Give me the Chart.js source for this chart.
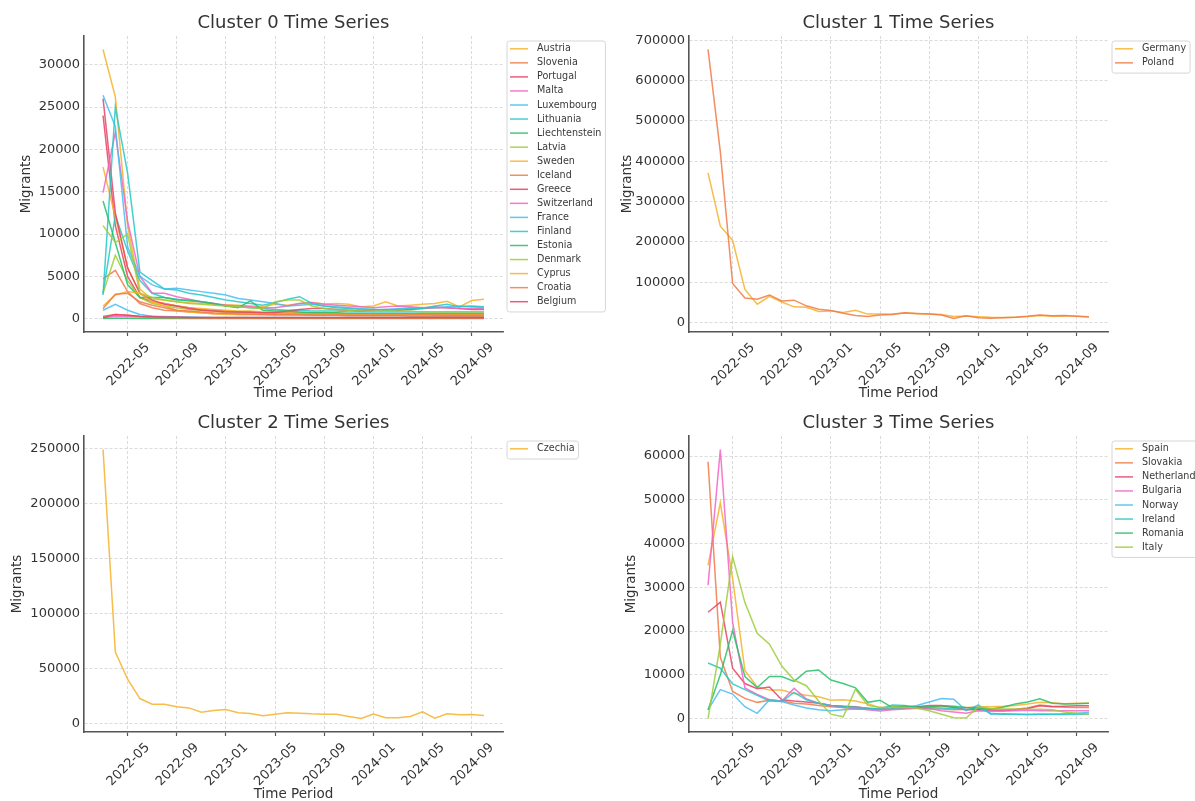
<!DOCTYPE html>
<html>
<head>
<meta charset="utf-8">
<script src="https://cdn.jsdelivr.net/npm/chart.js@4.4.1/dist/chart.umd.min.js"></script>
<style>
html,body{margin:0;padding:0;background:#ffffff;}
body{width:1195px;height:801px;position:relative;overflow:hidden;}
canvas{position:absolute;}
</style>
</head>
<body>
<canvas id="c0" width="610" height="400" style="left:0px;top:0px"></canvas>
<canvas id="c1" width="585" height="400" style="left:610px;top:0px"></canvas>
<canvas id="c2" width="610" height="401" style="left:0px;top:400px"></canvas>
<canvas id="c3" width="585" height="401" style="left:610px;top:400px"></canvas>
<script>
// ---------- categories (time periods) ----------
const months = ['2022-03','2022-04','2022-05','2022-06','2022-07','2022-08','2022-09','2022-10','2022-11','2022-12',
  '2023-01','2023-02','2023-03','2023-04','2023-05','2023-06','2023-07','2023-08','2023-09','2023-10','2023-11','2023-12',
  '2024-01','2024-02','2024-03','2024-04','2024-05','2024-06','2024-07','2024-08','2024-09','2024-10'];
const xTickLabels = ['2022-05','2022-09','2023-01','2023-05','2023-09','2024-01','2024-05','2024-09'];
const yTickSteps = [5000, 100000, 50000, 10000];

// ---------- Cluster 0 ----------
const cluster0Names = ['Austria','Slovenia','Portugal','Malta','Luxembourg','Lithuania','Liechtenstein','Latvia','Sweden','Iceland','Greece','Switzerland','France','Finland','Estonia','Denmark','Cyprus','Croatia','Belgium'];
const austria = [31800,26200,11000,3500,2300,2200,2000,1900,1800,1700,1650,1600,1500,1400,1700,1600,1800,1900,1750,1800,1700,1400,1500,2000,1500,1600,1700,1800,2050,1400,2150,2300];
const slovenia = [4700,5700,3200,1800,1300,1000,900,800,700,600,600,500,500,500,450,450,450,400,400,400,350,350,350,350,350,300,300,300,300,300,300,300];
const portugal = [24000,11000,5000,2500,2000,1800,1500,1300,1100,1000,900,800,800,700,700,700,700,650,650,600,600,600,550,550,550,550,550,500,500,500,500,500];
const malta = [100,300,250,200,150,150,150,150,120,120,120,120,110,110,110,110,100,100,100,100,100,100,100,100,100,100,100,100,100,100,100,100];
const luxembourg = [1000,1700,1000,500,300,250,200,200,180,150,150,150,150,150,150,150,150,150,150,150,150,150,150,150,150,150,150,150,150,150,150,150];
const lithuania = [3000,12200,8000,4500,3000,2500,2300,2100,2000,1800,1500,1400,1300,1200,1100,1000,1000,900,900,900,800,800,800,800,800,800,800,800,800,800,800,800];
const liechtenstein = [20,60,60,40,30,30,30,30,30,30,30,30,30,30,30,30,30,30,30,30,30,30,30,30,30,30,30,30,30,30,30,30];
const latvia = [3000,7500,4500,2500,1800,1500,1300,1100,1000,900,800,800,700,700,700,600,600,600,600,600,500,500,500,500,500,500,500,500,500,500,500,500];
const sweden = [17900,12000,6000,3000,2000,1800,1500,1300,1200,1100,1000,900,900,800,800,800,700,700,700,700,600,600,600,600,600,600,600,600,600,600,600,600];
const iceland = [300,500,400,250,150,100,100,80,80,60,60,50,50,50,50,50,50,50,50,50,50,50,50,50,50,50,50,50,50,50,50,50];
const greece = [26000,12500,6000,3000,2200,1700,1500,1200,1000,900,800,800,750,700,700,900,1100,1200,1200,1100,1000,900,1000,1100,1000,1100,1200,1300,1300,1200,1100,1100];
const switzerland = [14900,22000,11500,5000,3000,3000,2600,2300,2000,1800,1600,1500,1400,1300,1300,1500,1800,1900,1700,1600,1500,1400,1300,1400,1500,1400,1300,1400,1300,1200,1200,1200];
const france = [26400,22700,8500,5000,4000,3500,3600,3400,3200,3000,2800,2400,2200,2000,1800,1500,1600,1700,1500,1400,1300,1200,1100,1100,1200,1300,1300,1300,1400,1500,1400,1300];
const finland = [2800,25000,17200,5500,4500,3500,3400,3000,2800,2500,2200,2000,1800,1600,1900,2300,2600,1800,1500,1300,1200,1100,1100,1000,1100,1200,1200,1500,1700,1400,1500,1400];
const estonia = [13900,9000,4000,2500,2500,2500,2200,2200,2000,1800,1500,1300,2100,1000,900,900,800,700,700,700,600,600,600,600,600,600,600,600,600,600,600,600];
const denmark = [11000,9000,10000,3000,2500,2200,2000,1800,1700,1600,1500,1400,1300,1200,2000,2200,2200,1500,1200,1100,1000,900,900,900,900,900,800,800,800,800,800,800];
const cyprus = [1500,2800,3200,3000,2000,1500,1000,800,700,600,500,500,500,500,500,500,500,500,500,500,500,500,500,500,500,500,500,500,500,500,500,500];
const croatia = [1200,2900,3000,2000,1600,1300,1000,900,800,700,650,600,550,500,500,500,500,450,450,450,400,400,400,400,400,450,450,450,400,400,400,400];
const belgium = [150,500,400,300,250,200,200,150,150,150,150,150,150,150,150,150,150,150,150,150,150,150,150,150,150,150,150,150,150,150,150,150];

// ---------- Cluster 1 ----------
const cluster1Names = ['Germany','Poland'];
const germany = [371000,239000,204000,82000,45500,65000,51000,39000,38000,27500,29000,25000,30500,21000,21500,21000,23500,22000,21500,20000,15000,16000,14500,13000,12500,13500,15000,17500,16000,16500,16000,14500];
const poland = [677000,423000,96700,61000,58000,68500,53500,55500,41500,33000,29800,23000,17500,15000,19000,20000,24500,22500,21000,19000,10000,17000,12000,11000,12000,13000,15500,19000,17000,17500,15500,14000];

// ---------- Cluster 2 ----------
const cluster2Names = ['Czechia'];
const czechia = [249500,65100,40300,22700,17600,17600,15200,14200,10300,11800,12700,9700,9100,7000,8500,9700,9400,8800,8500,8500,6400,4500,8500,5200,5200,6400,10600,4800,8800,7900,8200,7300];

// ---------- Cluster 3 ----------
const cluster3Names = ['Spain','Slovakia','Netherlands','Bulgaria','Norway','Ireland','Romania','Italy'];
const spain = [35000,49300,32000,11000,7200,6500,6500,5700,5300,5000,4200,4300,4000,3400,2500,2700,2800,2700,2600,2900,2600,2500,2700,2700,2800,3000,3300,3700,3600,3400,3500,3500];
const slovakia = [58700,14000,6200,4600,3700,4200,4000,3500,3300,3000,2700,2500,2300,2200,2100,2200,2300,2300,2200,2200,2000,2100,2200,2100,2000,2100,2400,3100,2800,2600,2500,2500];
const netherlands = [24300,26600,11500,8000,6800,7200,4300,4000,3800,3500,3000,2800,2700,2300,2100,2300,2500,2700,3000,3000,2500,2000,2000,1800,1800,2000,2300,2900,2700,2800,2900,2900];
const bulgaria = [30500,61500,22000,7000,5500,4300,4000,6900,4500,3500,3000,2500,2300,2000,1700,2000,2200,2400,2300,1800,1500,1200,1800,1700,1700,1800,1900,1800,1800,1800,1800,1800];
const norway = [2000,6600,5600,2700,1200,4300,3900,3100,2400,2000,1800,2000,2200,2100,2000,2300,2500,3000,3800,4600,4400,1800,3100,1000,1100,1000,900,1000,1000,1100,1200,1400];
const ireland = [12700,11500,7900,6600,5300,4000,3900,6000,4300,3500,3000,2800,2600,2400,2200,3100,3000,2600,2500,2400,2300,2000,2500,1200,1000,1000,900,1000,1000,900,1000,1000];
const romania = [2000,10000,20100,9600,7100,9600,9600,8500,10800,11100,8800,8000,7000,3700,4200,2500,2800,2600,2700,2900,2800,2500,2400,2200,2600,3300,3800,4500,3500,3300,3400,3500];
const italy = [0,17000,37000,26500,19500,17000,12000,8800,7500,4000,1000,400,6700,3000,2500,2500,2600,2400,1800,1000,200,100,2700,2300,2200,2200,2100,2100,2000,1500,1200,1000];

// ---------- styling ----------
const palette = ['rgba(246,178,40,0.85)','rgba(240,122,72,0.85)','rgba(232,66,100,0.85)','rgba(242,100,196,0.85)',
                 'rgba(70,188,242,0.85)','rgba(36,200,200,0.85)','rgba(36,192,104,0.85)','rgba(158,204,58,0.85)'];
const FONT = "'DejaVu Sans', 'Liberation Sans', sans-serif";
Chart.defaults.font.family = FONT;
Chart.defaults.color = '#333333';

const xTickValues = xTickLabels.map(l => months.indexOf(l));

const boxLegend = {
  id: 'boxLegend',
  afterDraw(chart, args, opts) {
    const ctx = chart.ctx;
    const ds = chart.data.datasets;
    ctx.save();
    ctx.font = '9.6px ' + FONT;
    const rowH = 14.05;
    let maxW = 0;
    ds.forEach(d => { maxW = Math.max(maxW, ctx.measureText(d.label).width); });
    const w = maxW + 34, h = ds.length * rowH + 4;
    const x = opts.left, y = opts.top, r = 2.5;
    ctx.beginPath();
    ctx.moveTo(x + r, y); ctx.lineTo(x + w - r, y); ctx.arcTo(x + w, y, x + w, y + r, r);
    ctx.lineTo(x + w, y + h - r); ctx.arcTo(x + w, y + h, x + w - r, y + h, r);
    ctx.lineTo(x + r, y + h); ctx.arcTo(x, y + h, x, y + h - r, r);
    ctx.lineTo(x, y + r); ctx.arcTo(x, y, x + r, y, r);
    ctx.closePath();
    ctx.fillStyle = 'rgba(255,255,255,0.85)';
    ctx.fill();
    ctx.strokeStyle = '#d6d6d6';
    ctx.lineWidth = 1;
    ctx.stroke();
    ds.forEach((d, i) => {
      const yy = y + 7.8 + i * rowH;
      ctx.strokeStyle = d.borderColor;
      ctx.lineWidth = 1.5;
      ctx.beginPath(); ctx.moveTo(x + 3, yy); ctx.lineTo(x + 21, yy); ctx.stroke();
      ctx.fillStyle = '#3a3a3a';
      ctx.textBaseline = 'middle';
      ctx.textAlign = 'left';
      ctx.fillText(d.label, x + 30, yy);
    });
    ctx.restore();
  }
};

function makeChart(id, title, names, series, cfg) {
  const canvas = document.getElementById(id);
  const H = canvas.height;
  const all = series.flat();
  const lo = Math.min(...all), hi = Math.max(...all);
  const m = (hi - lo) * 0.05;
  const n = months.length - 1;
  const step = cfg.step;
  return new Chart(canvas, {
    type: 'line',
    data: {
      datasets: names.map((name, k) => ({
        label: name,
        data: series[k].map((v, i) => ({ x: i, y: v })),
        borderColor: palette[k % palette.length],
        borderWidth: 1.5,
        pointRadius: 0,
        pointHoverRadius: 0,
        tension: 0,
        fill: false,
        order: -k
      }))
    },
    options: {
      responsive: false,
      animation: false,
      events: [],
      layout: { padding: { left: 0, top: 0, right: cfg.right, bottom: 0 } },
      plugins: {
        legend: { display: false },
        tooltip: { enabled: false },
        title: {
          display: true, text: title, fullSize: false, color: '#333333',
          font: { size: 18, weight: 'normal', lineHeight: 1.2 },
          padding: { top: 12.5, bottom: 1.9 }
        },
        boxLegend: { left: cfg.legendLeft, top: 41 }
      },
      scales: {
        x: {
          type: 'linear',
          min: -0.05 * n,
          max: n + 0.05 * n,
          afterBuildTicks: s => { s.ticks = xTickValues.map(v => ({ value: v })); },
          afterFit: s => { s.height = H - 332; },
          ticks: {
            autoSkip: false, minRotation: 45, maxRotation: 45, labelOffset: 20, padding: 4,
            font: { size: 13 }, color: '#333333',
            callback: v => months[v]
          },
          grid: { color: '#d2d2d2', lineWidth: 0.8, drawTicks: true, tickLength: 4, tickColor: '#555555', tickWidth: 1.2, tickBorderDash: [] },
          border: { display: true, color: '#555555', width: 1.6, dash: [3, 2] },
          title: { display: true, text: 'Time Period', color: '#333333', font: { size: 13.5, lineHeight: 1 }, padding: { top: 0, bottom: 0 } }
        },
        y: {
          type: 'linear',
          min: lo - m,
          max: hi + m,
          afterBuildTicks: s => {
            const t = [];
            for (let v = Math.ceil(s.min / step) * step; v <= s.max; v += step) t.push({ value: v });
            s.ticks = t;
          },
          afterFit: s => { s.width = cfg.left; },
          ticks: {
            autoSkip: false, padding: 4,
            font: { size: 13 }, color: '#333333',
            callback: v => String(Math.round(v))
          },
          grid: { color: '#d2d2d2', lineWidth: 0.8, drawTicks: false },
          border: { display: true, color: '#555555', width: 1.6, dash: [3, 2] },
          title: { display: true, text: 'Migrants', color: '#333333', font: { size: 13.5, lineHeight: 1 }, padding: { top: cfg.yTitlePad, bottom: 0 } }
        }
      }
    },
    plugins: [boxLegend]
  });
}

makeChart('c0', 'Cluster 0 Time Series', cluster0Names,
  [austria, slovenia, portugal, malta, luxembourg, lithuania, liechtenstein, latvia, sweden, iceland, greece, switzerland, france, finland, estonia, denmark, cyprus, croatia, belgium],
  { left: 84, right: 107, step: yTickSteps[0], yTitlePad: 20, legendLeft: 507 });
makeChart('c1', 'Cluster 1 Time Series', cluster1Names, [germany, poland],
  { left: 79, right: 87, step: yTickSteps[1], yTitlePad: 11, legendLeft: 502 });
makeChart('c2', 'Cluster 2 Time Series', cluster2Names, [czechia],
  { left: 84, right: 107, step: yTickSteps[2], yTitlePad: 11, legendLeft: 507 });
makeChart('c3', 'Cluster 3 Time Series', cluster3Names,
  [spain, slovakia, netherlands, bulgaria, norway, ireland, romania, italy],
  { left: 79, right: 87, step: yTickSteps[3], yTitlePad: 15, legendLeft: 502 });
</script>
</body>
</html>
